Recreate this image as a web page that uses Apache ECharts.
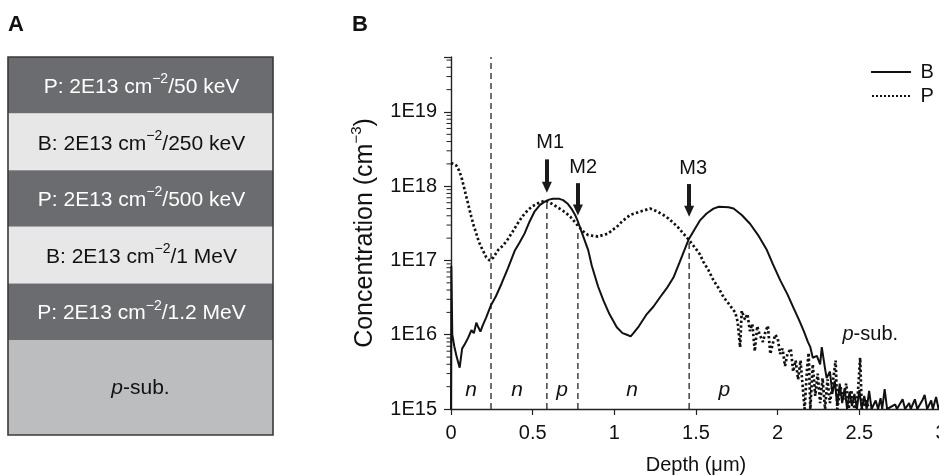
<!DOCTYPE html>
<html><head><meta charset="utf-8">
<script src="https://cdn.jsdelivr.net/npm/echarts@6/dist/echarts.min.js"></script>
<style>html,body{margin:0;padding:0;background:#fff}#c{width:939px;height:475px}</style>
</head><body><div id="c"></div>
<script>
// ---- Data ----
const bDepth = [0,0.002,0.008,0.02,0.035,0.053,0.068,0.085,0.104,0.125,0.14,0.155,0.168,0.18,0.195,0.215,0.243,0.275,0.31,0.35,0.39,0.42,0.45,0.48,0.51,0.545,0.574,0.6,0.625,0.66,0.686,0.715,0.737,0.76,0.778,0.81,0.84,0.862,0.9,0.933,0.97,1.015,1.05,1.077,1.1,1.117,1.15,1.199,1.24,1.28,1.32,1.362,1.4,1.454,1.49,1.526,1.565,1.607,1.64,1.669,1.7,1.73,1.78,1.832,1.88,1.934,1.97,2.016,2.06,2.097,2.13,2.16,2.185,2.2,2.215,2.24,2.26,2.27,2.29,2.3,2.32,2.335,2.35,2.365,2.38,2.395,2.41,2.425,2.44,2.455,2.47,2.485,2.5,2.515,2.53,2.545,2.56,2.575,2.6,2.615,2.63,2.64,2.655,2.67,2.72,2.73,2.765,2.78,2.805,2.815,2.84,2.855,2.885,2.9,2.915,2.94,2.95,2.97,2.985,3.0];
const bConc = [1e15,8.5e16,1.0e16,7e15,5e15,3.6e15,6.5e15,7.5e15,9e15,1.15e16,1.05e16,1.45e16,1.25e16,1.1e16,1.35e16,1.7e16,2.45e16,3.3e16,4.9e16,8.0e16,1.35e17,1.75e17,2.3e17,3.3e17,4.5e17,5.6e17,6.2e17,6.6e17,6.8e17,6.8e17,6.5e17,5.8e17,5.0e17,4.1e17,3.3e17,2.1e17,1.38e17,8.5e16,4.5e16,2.9e16,1.9e16,1.26e16,1.05e16,1.0e16,9.5e15,1.05e16,1.3e16,1.9e16,2.4e16,3.2e16,4.2e16,5.9e16,9.5e16,1.9e17,2.6e17,3.5e17,4.3e17,5.0e17,5.3e17,5.25e17,5.2e17,5.0e17,4.1e17,3.1e17,2.2e17,1.38e17,9e16,5.4e16,3.5e16,2.3e16,1.6e16,1.12e16,8e15,6.8e15,4.9e15,5.2e15,4.0e15,6.8e15,3.5e15,2.6e15,3.2e15,1.6e15,2.4e15,1.1e15,2.2e15,1.2e15,1.9e15,1.0e15,1.7e15,1.1e15,1.6e15,1.0e15,1.8e15,1.0e15,1.5e15,1.0e15,1.75e15,1.0e15,1.3e15,1.0e15,1.4e15,1.0e15,1.85e15,1.0e15,1.15e15,1.0e15,1.35e15,1.0e15,1.2e15,1.0e15,1.35e15,1.0e15,1.3e15,1.55e15,1.0e15,1.3e15,1.0e15,1.45e15,1.0e15,1.25e15];
const pDepth = [0,0.018,0.033,0.048,0.063,0.078,0.094,0.11,0.124,0.14,0.155,0.17,0.186,0.2,0.216,0.237,0.26,0.288,0.32,0.349,0.38,0.41,0.44,0.472,0.5,0.533,0.574,0.6,0.635,0.665,0.697,0.73,0.758,0.78,0.799,0.82,0.84,0.87,0.9,0.93,0.962,0.99,1.013,1.05,1.097,1.15,1.219,1.26,1.3,1.33,1.362,1.39,1.423,1.46,1.505,1.525,1.546,1.575,1.607,1.64,1.669,1.69,1.71,1.74,1.755,1.77,1.78,1.8,1.815,1.83,1.845,1.86,1.875,1.89,1.91,1.925,1.94,1.955,1.97,1.985,2.0,2.015,2.03,2.045,2.06,2.08,2.095,2.11,2.125,2.14,2.155,2.165,2.18,2.19,2.2,2.215,2.23,2.245,2.26,2.275,2.29,2.305,2.32,2.34,2.355,2.365,2.385,2.4,2.42,2.435,2.45,2.47,2.49,2.505,2.515,2.54,2.56];
const pConc = [2.05e18,2.0e18,1.9e18,1.65e18,1.35e18,1.0e18,7.2e17,5.2e17,3.9e17,2.9e17,2.3e17,1.8e17,1.5e17,1.3e17,1.1e17,1.0e17,1.1e17,1.38e17,1.6e17,1.95e17,2.5e17,3.2e17,4.0e17,4.8e17,5.4e17,5.9e17,6.4e17,6.1e17,5.5e17,5.0e17,4.5e17,3.9e17,3.3e17,2.9e17,2.6e17,2.35e17,2.2e17,2.15e17,2.1e17,2.2e17,2.3e17,2.6e17,2.8e17,3.4e17,4.1e17,4.5e17,5.0e17,4.6e17,4.1e17,3.7e17,3.2e17,2.8e17,2.3e17,1.86e17,1.38e17,1.2e17,9.5e16,7.5e16,5.4e16,4.2e16,3.2e16,2.8e16,2.45e16,2.0e16,1.5e16,6.8e15,2.1e16,1.6e16,1.9e16,1.12e16,1.4e16,6e15,1.3e16,1.0e16,8e15,1.1e16,1.32e16,5.5e15,7.6e15,1.0e16,9e15,5.5e15,6.5e15,3.8e15,5.5e15,6.5e15,3.2e15,4.5e15,2.5e15,4.5e15,1.8e15,1.0e15,3.5e15,5.7e15,1.0e15,4.0e15,1.5e15,3.0e15,1.2e15,2.6e15,1.0e15,2.5e15,1.2e15,2.5e15,4.5e15,1.0e15,2.0e15,1.3e15,2.2e15,1.0e15,1.8e15,1.0e15,1.5e15,4.9e15,1.0e15,1.3e15,1.0e15];

const junctionDepth = [0.245, 0.587, 0.777, 1.458];
const junctionTop   = [5.5e19, 5.9e17, 2.5e17, 1.86e17];
const markerNames = ['M1','M2','M3'];
const markerDepth = [0.587, 0.777, 1.458];
const arrowStart  = [2.3e18, 1.1e18, 1.07e18];
const arrowEnd    = [9.7e17, 4.8e17, 4.6e17];
const markerLabelDepth = [0.607, 0.809, 1.483];
const markerLabelConc  = [3.9e18, 1.8e18, 1.75e18];
const regionText  = ['n','n','p','n','p'];
const regionDepth = [0.123, 0.404, 0.68, 1.109, 1.673];
const regionConc  = [1.8e15, 1.8e15, 1.8e15, 1.8e15, 1.8e15];
const subLabelDepth = 2.567, subLabelConc = 1.0e16;
const xTickLabels = ['0','0.5','1','1.5','2','2.5','3'];
const yTickLabels = ['1E15','1E16','1E17','1E18','1E19'];

const layerIon = ['P','B','P','B','P'];
const layerDose = '2E13';
const layerEnergy = ['50 keV','250 keV','500 keV','1 MeV','1.2 MeV'];

// ---- Build ----
const FONT = '"Liberation Sans", Arial, sans-serif';
const INK = '#111111';
const zip = (a, b) => a.map((v, i) => [v, b[i]]);
const yMin = 1e15, yMax = 5.5e19;

const minorTicks = [];
for (let e = 15; e <= 19; e++) for (let k = 2; k <= 9; k++) { const v = k * Math.pow(10, e); if (v <= yMax) minorTicks.push([0, v]); }

// legend icons: solid bar and dotted bar
const solidIcon = 'path://M0,0H40V2H0Z';
let dotted = 'path://';
for (let i = 0; i < 10; i++) { const x0 = i * 4; dotted += 'M' + x0 + ',0H' + (x0 + 2) + 'V2H' + x0 + 'Z'; }

// Left panel graphics
const graphics = [];
const boxX = 8, boxW = 265, boxTop = 57, bandH = 56.6, boxBottom = 435;
const dark = '#6b6c6f', light = '#e7e7e8', sub = '#bcbdbf';
layerIon.forEach((ion, i) => {
  const isDark = i % 2 === 0;
  const y = boxTop + i * bandH;
  graphics.push({ type: 'rect', shape: { x: boxX, y: y, width: boxW, height: bandH }, style: { fill: isDark ? dark : light } });
  const col = isDark ? '#ffffff' : INK;
  graphics.push({ type: 'text', x: boxX + boxW / 2 + 1, y: y + bandH / 2 + 2,
    style: { text: '{a|' + ion + ': ' + layerDose + ' cm}{s|−2}{a|/' + layerEnergy[i] + '}', align: 'center', verticalAlign: 'middle',
      rich: { a: { fontSize: 21, fontFamily: FONT, fill: col, lineHeight: 30 }, s: { fontSize: 14, fontFamily: FONT, fill: col, lineHeight: 12, verticalAlign: 'top' } } } });
});
const subTop = boxTop + 5 * bandH;
graphics.push({ type: 'rect', shape: { x: boxX, y: subTop, width: boxW, height: boxBottom - subTop }, style: { fill: sub } });
graphics.push({ type: 'text', x: boxX + boxW / 2, y: (subTop + boxBottom) / 2 + 1,
  style: { text: '{i|p}{a|-sub.}', align: 'center', verticalAlign: 'middle',
    rich: { i: { fontSize: 21, fontFamily: FONT, fontStyle: 'italic', fill: INK }, a: { fontSize: 21, fontFamily: FONT, fill: INK } } } });
graphics.push({ type: 'rect', shape: { x: boxX, y: boxTop, width: boxW, height: boxBottom - boxTop }, style: { fill: 'none', stroke: '#3a3a3a', lineWidth: 1.6 } });
graphics.push({ type: 'text', x: 8, y: 14, style: { text: 'A', fontSize: 22, fontWeight: 'bold', fontFamily: FONT, fill: INK } });
graphics.push({ type: 'text', x: 352, y: 14, style: { text: 'B', fontSize: 22, fontWeight: 'bold', fontFamily: FONT, fill: INK } });

const labelBase = { show: true, position: 'inside', formatter: '{b}', fontFamily: FONT, color: INK, opacity: 1, textBorderWidth: 0 };
const series = [
  { name: 'B', type: 'line', data: zip(bDepth, bConc), symbol: 'none', lineStyle: { color: INK, width: 2 }, itemStyle: { color: INK }, z: 3 },
  { name: 'P', type: 'line', data: zip(pDepth, pConc), symbol: 'none', lineStyle: { color: INK, width: 2.7, type: [2.4, 2.4] }, itemStyle: { color: INK }, z: 3 }
];
junctionDepth.forEach((d, i) => {
  series.push({ name: 'junction' + i, type: 'line', data: [[d, yMin], [d, junctionTop[i]]], symbol: 'none', silent: true,
    lineStyle: { color: '#222', width: 1.3, type: [6, 4] }, z: 2 });
});
series.push({ name: 'arrows', type: 'line', data: [], silent: true,
  markLine: { silent: true, symbol: ['none', 'triangle'], symbolSize: [10, 11], label: { show: false },
    lineStyle: { color: '#1a1a1a', width: 4, type: 'solid' },
    data: markerDepth.map((d, i) => [{ coord: [d, arrowStart[i]] }, { coord: [d, arrowEnd[i]] }]) } });
series.push({ name: 'markerLabels', type: 'scatter', symbolSize: 0, silent: true, itemStyle: { opacity: 1 },
  data: markerNames.map((n, i) => ({ name: n, value: [markerLabelDepth[i], markerLabelConc[i]] })),
  label: Object.assign({}, labelBase, { fontSize: 20 }) });
series.push({ name: 'regions', type: 'scatter', symbolSize: 0, silent: true, itemStyle: { opacity: 1 },
  data: regionText.map((n, i) => ({ name: n, value: [regionDepth[i], regionConc[i]] })),
  label: Object.assign({}, labelBase, { fontSize: 21, fontStyle: 'italic' }) });
series.push({ name: 'sub', type: 'scatter', symbolSize: 0, silent: true, itemStyle: { opacity: 1 },
  data: [{ name: 'p-sub.', value: [subLabelDepth, subLabelConc] }],
  label: Object.assign({}, labelBase, { formatter: '{i|p}{a|-sub.}',
    rich: { i: { fontSize: 20, fontStyle: 'italic', fontFamily: FONT, color: INK }, a: { fontSize: 20, fontFamily: FONT, color: INK } } }) });
series.push({ name: 'minor', type: 'custom', silent: true, data: minorTicks, clip: false,
  renderItem: (params, api) => { const p = api.coord([api.value(0), api.value(1)]);
    return { type: 'line', shape: { x1: p[0] - 4.5, y1: p[1], x2: p[0], y2: p[1] }, style: { stroke: '#222', lineWidth: 1 } }; } });

const option = {
  animation: false,
  backgroundColor: '#ffffff',
  textStyle: { fontFamily: FONT },
  graphic: graphics,
  legend: { data: [{ name: 'B', icon: solidIcon }, { name: 'P', icon: dotted }], orient: 'vertical', left: 866, top: 57, itemWidth: 41, itemHeight: 2, itemGap: 4,
    itemStyle: { color: INK, borderWidth: 0 },
    textStyle: { fontSize: 20, color: INK, fontFamily: FONT, padding: [0, 0, 0, 4], lineHeight: 20 }, selectedMode: false },
  grid: { left: 451, right: -2, top: 57, bottom: 66, containLabel: false, outerBoundsMode: 'none' },
  xAxis: { type: 'value', min: 0, max: 3, interval: 0.5,
    name: 'Depth (μm)', nameLocation: 'middle', nameGap: 46, nameTextStyle: { fontSize: 20, color: INK, fontFamily: FONT },
    axisLine: { lineStyle: { color: '#222', width: 1.4 } }, axisTick: { length: 6, lineStyle: { color: '#222', width: 1.2 } },
    axisLabel: { fontSize: 20, color: INK, margin: 14, fontFamily: FONT,
      formatter: v => { const i = Math.round(v / 0.5); return Math.abs(v - i * 0.5) < 1e-6 ? xTickLabels[i] : ''; } },
    splitLine: { show: false } },
  yAxis: { type: 'log', logBase: 10, min: yMin, max: yMax,
    name: '{a|Concentration (cm}{s|−3}{a|)}', nameLocation: 'middle', nameGap: 70, nameRotate: 90,
    nameTextStyle: { rich: { a: { fontSize: 25, color: INK, fontFamily: FONT, lineHeight: 32 }, s: { fontSize: 15, color: INK, fontFamily: FONT, lineHeight: 14, verticalAlign: 'top' } } },
    axisLine: { show: true, lineStyle: { color: '#222', width: 1.4 } }, axisTick: { show: true, length: 7, lineStyle: { color: '#222', width: 1.2 } },
    axisLabel: { fontSize: 20, color: INK, margin: 14, fontFamily: FONT,
      formatter: v => { const e = Math.log10(v); const r = Math.round(e); return Math.abs(e - r) < 1e-6 && r >= 15 && r <= 19 ? yTickLabels[r - 15] : ''; } },
    splitLine: { show: false }, minorTick: { show: false } },
  series: series
};
const chart = echarts.init(document.getElementById('c'), null, { renderer: 'canvas' });
chart.setOption(option);
</script></body></html>
